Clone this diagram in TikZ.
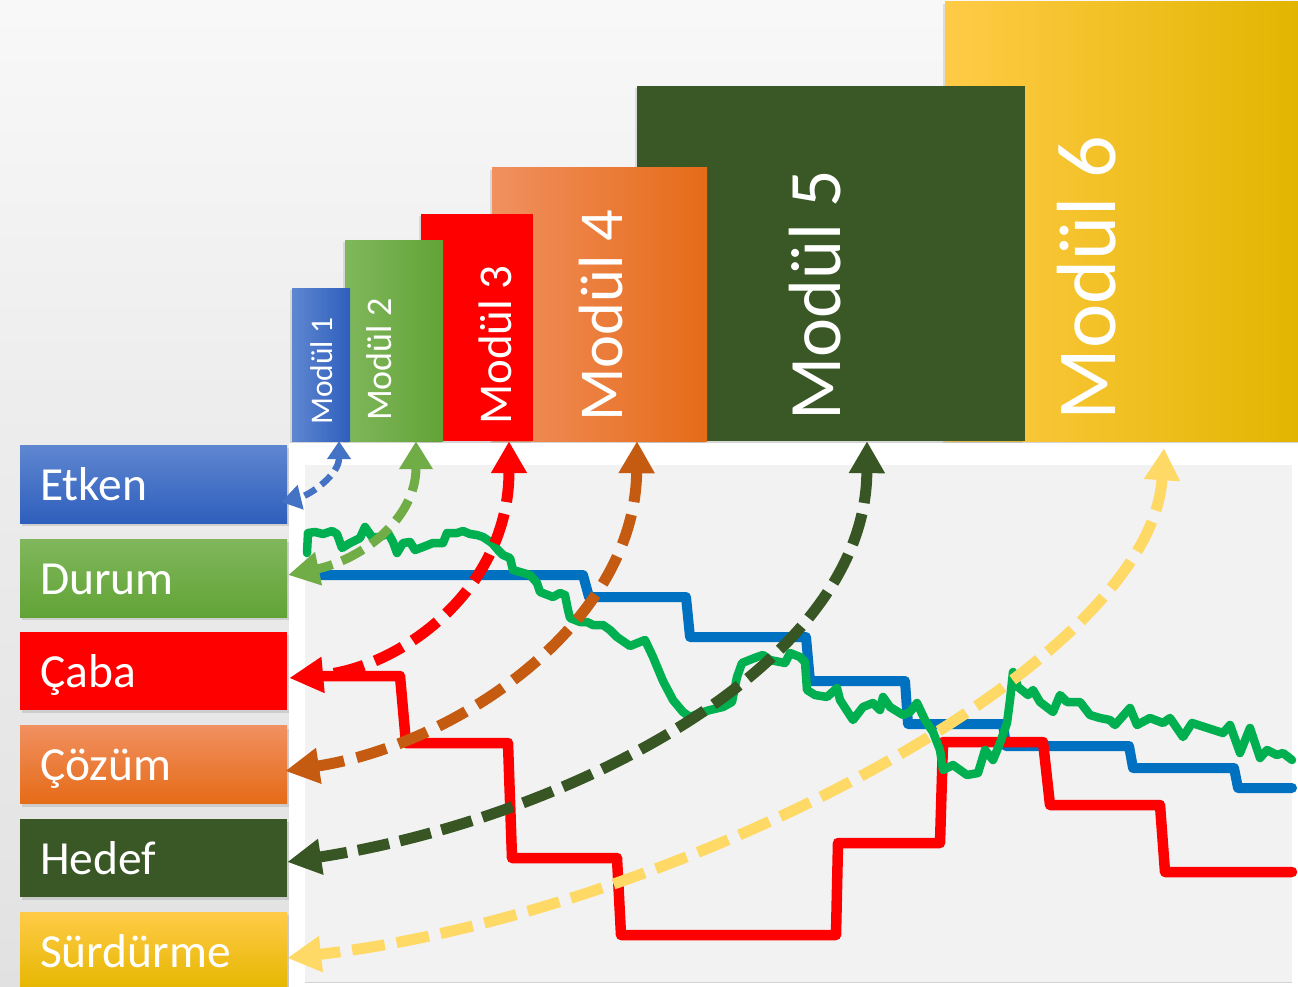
\documentclass[tikz,border=0pt]{standalone}
\usepackage{fontspec}
\setmainfont{Carlito}
\usetikzlibrary{arrows.meta,shadows,calc}
\definecolor{bgbot}{HTML}{D2D2D2}
\definecolor{bgmid}{HTML}{EDEDED}
\definecolor{plotbg}{HTML}{F2F2F2}
\definecolor{cBlueA}{HTML}{5F87D0}
\definecolor{cBlueB}{HTML}{2F5FBD}
\definecolor{cGreenA}{HTML}{80B75C}
\definecolor{cGreenB}{HTML}{62A336}
\definecolor{cRed}{HTML}{FF0000}
\definecolor{cOrA}{HTML}{F19060}
\definecolor{cOrM}{HTML}{F47D2E}
\definecolor{cOrB}{HTML}{E56B17}
\definecolor{cDark}{HTML}{3A5726}
\definecolor{cYelA}{HTML}{FFCB47}
\definecolor{cYelM}{HTML}{FFC000}
\definecolor{cYelB}{HTML}{E2B500}
\definecolor{aBlue}{HTML}{4472C4}
\definecolor{aGreen}{HTML}{70AD47}
\definecolor{aOrange}{HTML}{C55A11}
\definecolor{aDark}{HTML}{375623}
\definecolor{aYellow}{HTML}{FFD966}
\definecolor{lBlue}{HTML}{0070C0}
\definecolor{lGreen}{HTML}{00B050}
\pgfdeclareverticalshading{bgshade}{100bp}{color(0bp)=(bgbot); color(30bp)=(bgbot!60!white); color(55bp)=(bgmid); color(78bp)=(white!98!black); color(100bp)=(white)}
\begin{document}
\begin{tikzpicture}[x=1pt,y=-1pt,
  lbox/.style={minimum width=267pt, minimum height=78pt, inner xsep=20pt, inner ysep=0pt,
    text width=227pt, align=left, text=white, font=\fontsize{47.5}{52}\selectfont,
    text height=36pt, text depth=4pt,
    drop shadow={shadow xshift=1.5pt, shadow yshift=-3pt, opacity=0.25}},
  modbox/.style={inner sep=0pt, drop shadow={shadow xshift=-2pt, shadow yshift=-2pt, opacity=0.22}},
  modtext/.style={rotate=90, anchor=base west, inner sep=0pt, text=white},
  chartline/.style={line width=10pt, line join=round, line cap=round},
  arr/.style={line width=11pt, dash pattern=on 32pt off 11pt,
    arrows={Triangle[length=32pt,width=34pt]-Triangle[length=34pt,width=34pt]}},
]
\useasboundingbox (0,0) rectangle (1298,987);
% background
\fill[shading=bgshade] (0,0) rectangle (1298,987);
\fill[white] (289,443) rectangle (1298,987);
\fill[plotbg] (305,465) rectangle (1292,982);
\draw[gray!35, line width=1pt] (305,982.5) -- (1292,982.5);

% module boxes (back to front)
\node[modbox, left color=cYelA, middle color=cYelM, right color=cYelB,
  minimum width=355pt, minimum height=439pt] (m6) at (1122.5,221.5) {};
\node[modbox, fill=cDark, minimum width=388pt, minimum height=355pt] (m5) at (831,263.5) {};
\node[modbox, left color=cOrA, right color=cOrB, minimum width=215pt, minimum height=273pt] (m4) at (599.5,304.5) {};
\node[modbox, fill=cRed, minimum width=112pt, minimum height=227pt] (m3) at (477,327.5) {};
\node[modbox, left color=cGreenA, right color=cGreenB, minimum width=98pt, minimum height=201pt] (m2) at (394,340.5) {};
\node[modbox, left color=cBlueA, right color=cBlueB, minimum width=58pt, minimum height=153pt] (m1) at (321,364.5) {};

\node[modtext, font=\fontsize{84}{90}\selectfont] (m6t) at (1115,421) {Modül 6};
\node[modtext, font=\fontsize{74}{80}\selectfont] (m5t) at (840,421) {Modül 5};
\node[modtext, font=\fontsize{62.5}{68}\selectfont] (m4t) at (622,422) {Modül 4};
\node[modtext, font=\fontsize{47}{50}\selectfont] (m3t) at (511,425) {Modül 3};
\node[modtext, font=\fontsize{36}{40}\selectfont] (m2t) at (391,421) {Modül 2};
\node[modtext, font=\fontsize{31.5}{35}\selectfont] (m1t) at (332,425) {Modül 1};

% label boxes
\node[lbox, top color=cBlueA, bottom color=cBlueB] (etken) at (153.5,484) {Etken};
\node[lbox, top color=cGreenA, bottom color=cGreenB] (durum) at (153.5,578) {Durum};
\node[lbox, fill=cRed] (caba) at (153.5,671) {Çaba};
\node[lbox, top color=cOrA, middle color=cOrM, bottom color=cOrB] (cozum) at (153.5,764.5) {Çözüm};
\node[lbox, fill=cDark] (hedef) at (153.5,858) {Hedef};
\node[lbox, top color=cYelA, middle color=cYelM, bottom color=cYelB!90!cYelM] (surd) at (153.5,951) {Sürdürme};

% chart lines
\draw[chartline, lBlue] (312,575) -- (583,575) -- (589,597) -- (686,597) -- (690,637) -- (806,637)
  -- (810,681) -- (905,681) -- (908,724) -- (1003,724) -- (1006,746) -- (1129,746) -- (1133,768)
  -- (1234,768) -- (1238,788) -- (1292,788);
\draw[chartline, cRed, line width=10.5pt] (312,676) -- (400,676) -- (406,743) -- (508,743) -- (512,858) -- (617,858)
  -- (621,935) -- (836,935) -- (838,843) -- (940,843) -- (943,742) -- (1043,742) -- (1050,805)
  -- (1160,805) -- (1165,872) -- (1292,872);
\draw[chartline, lGreen, line width=8.5pt] (307,553) -- (308,533) -- (315,532) -- (323,534) -- (332,531) -- (337,534)
  -- (342,548) -- (350,543) -- (360,538) -- (365,527) -- (372,537) -- (380,537) -- (388,533)
  -- (393,542) -- (397,553) -- (403,543) -- (410,542) -- (415,550) -- (423,547) -- (433,543)
  -- (443,543) -- (447,533) -- (457,533) -- (463,531) -- (470,534) -- (477,535) -- (483,537)
  -- (492,543) -- (498,550) -- (503,555) -- (510,558) -- (513,570) -- (520,572) -- (530,575)
  -- (537,583) -- (540,592) -- (553,597) -- (560,593) -- (565,595) -- (568,610) -- (570,618)
  -- (580,622) -- (587,622) -- (593,625) -- (603,625) -- (610,630) -- (617,637) -- (630,646)
  -- (645,640) -- (653,657) -- (663,681) -- (673,700) -- (683,712) -- (690,717) -- (700,713)
  -- (710,710) -- (723,707) -- (732,702) -- (737,677) -- (742,663) -- (757,657) -- (763,655)
  -- (770,660) -- (780,662) -- (785,663) -- (790,653) -- (800,657) -- (805,662) -- (807,690)
  -- (815,695) -- (827,697) -- (837,688) -- (840,700) -- (853,720) -- (863,707) -- (873,703)
  -- (880,710) -- (883,697) -- (890,707) -- (903,715) -- (910,712) -- (917,703) -- (925,720)
  -- (933,732) -- (940,750) -- (943,770) -- (953,765) -- (967,775) -- (978,773) -- (985,750)
  -- (993,760) -- (1000,743) -- (1007,723) -- (1010,700) -- (1013,672) -- (1018,687) -- (1028,695)
  -- (1033,690) -- (1040,702) -- (1053,712) -- (1060,695) -- (1067,702) -- (1080,702) -- (1090,715)
  -- (1100,718) -- (1110,720) -- (1115,725) -- (1130,708) -- (1137,725) -- (1150,718) -- (1163,723)
  -- (1170,718) -- (1183,737) -- (1192,723) -- (1223,733) -- (1230,725) -- (1240,753) -- (1250,728)
  -- (1260,758) -- (1267,750) -- (1277,755) -- (1283,753) -- (1292,760);

% connectors
\draw[arr, aYellow, dash pattern=on 33pt off 12pt] ([xshift=41.5pt,yshift=-7pt]m6.south)
  .. controls (1150,670) and (665,915) .. ([yshift=-7pt]surd.east);
\draw[arr, aDark] ([xshift=36pt]m5.south)
  .. controls (866,670) and (560,820) .. ([yshift=-4pt]hedef.east);
\draw[arr, aOrange, dash pattern=on 31pt off 13pt] ([xshift=37.5pt]m4.south)
  .. controls (635,625) and (455,745) .. ([xshift=-2pt,yshift=-6.5pt]cozum.east);
\draw[arr, cRed, dash pattern=on 31pt off 12pt] ([xshift=32pt]m3.south)
  .. controls (509,590) and (400,668) .. ([xshift=2pt,yshift=-7pt]caba.east);
\draw[arr, aGreen, line width=9pt, dash pattern=on 24pt off 10pt,
  arrows={Triangle[length=28pt,width=32pt]-Triangle[length=31pt,width=32pt]}]
  ([xshift=22pt]m2.south) .. controls (416,520) and (360,560) .. ([xshift=1pt,yshift=3pt]durum.east);
\draw[arr, aBlue, line width=6.5pt, dash pattern=on 13pt off 7pt,
  arrows={Triangle[length=18pt,width=23pt]-Triangle[length=20pt,width=24pt]}]
  ([xshift=18pt]m1.south) .. controls (339,475) and (310,495) .. ([xshift=-6pt,yshift=-18pt]etken.east);
\end{tikzpicture}
\end{document}
